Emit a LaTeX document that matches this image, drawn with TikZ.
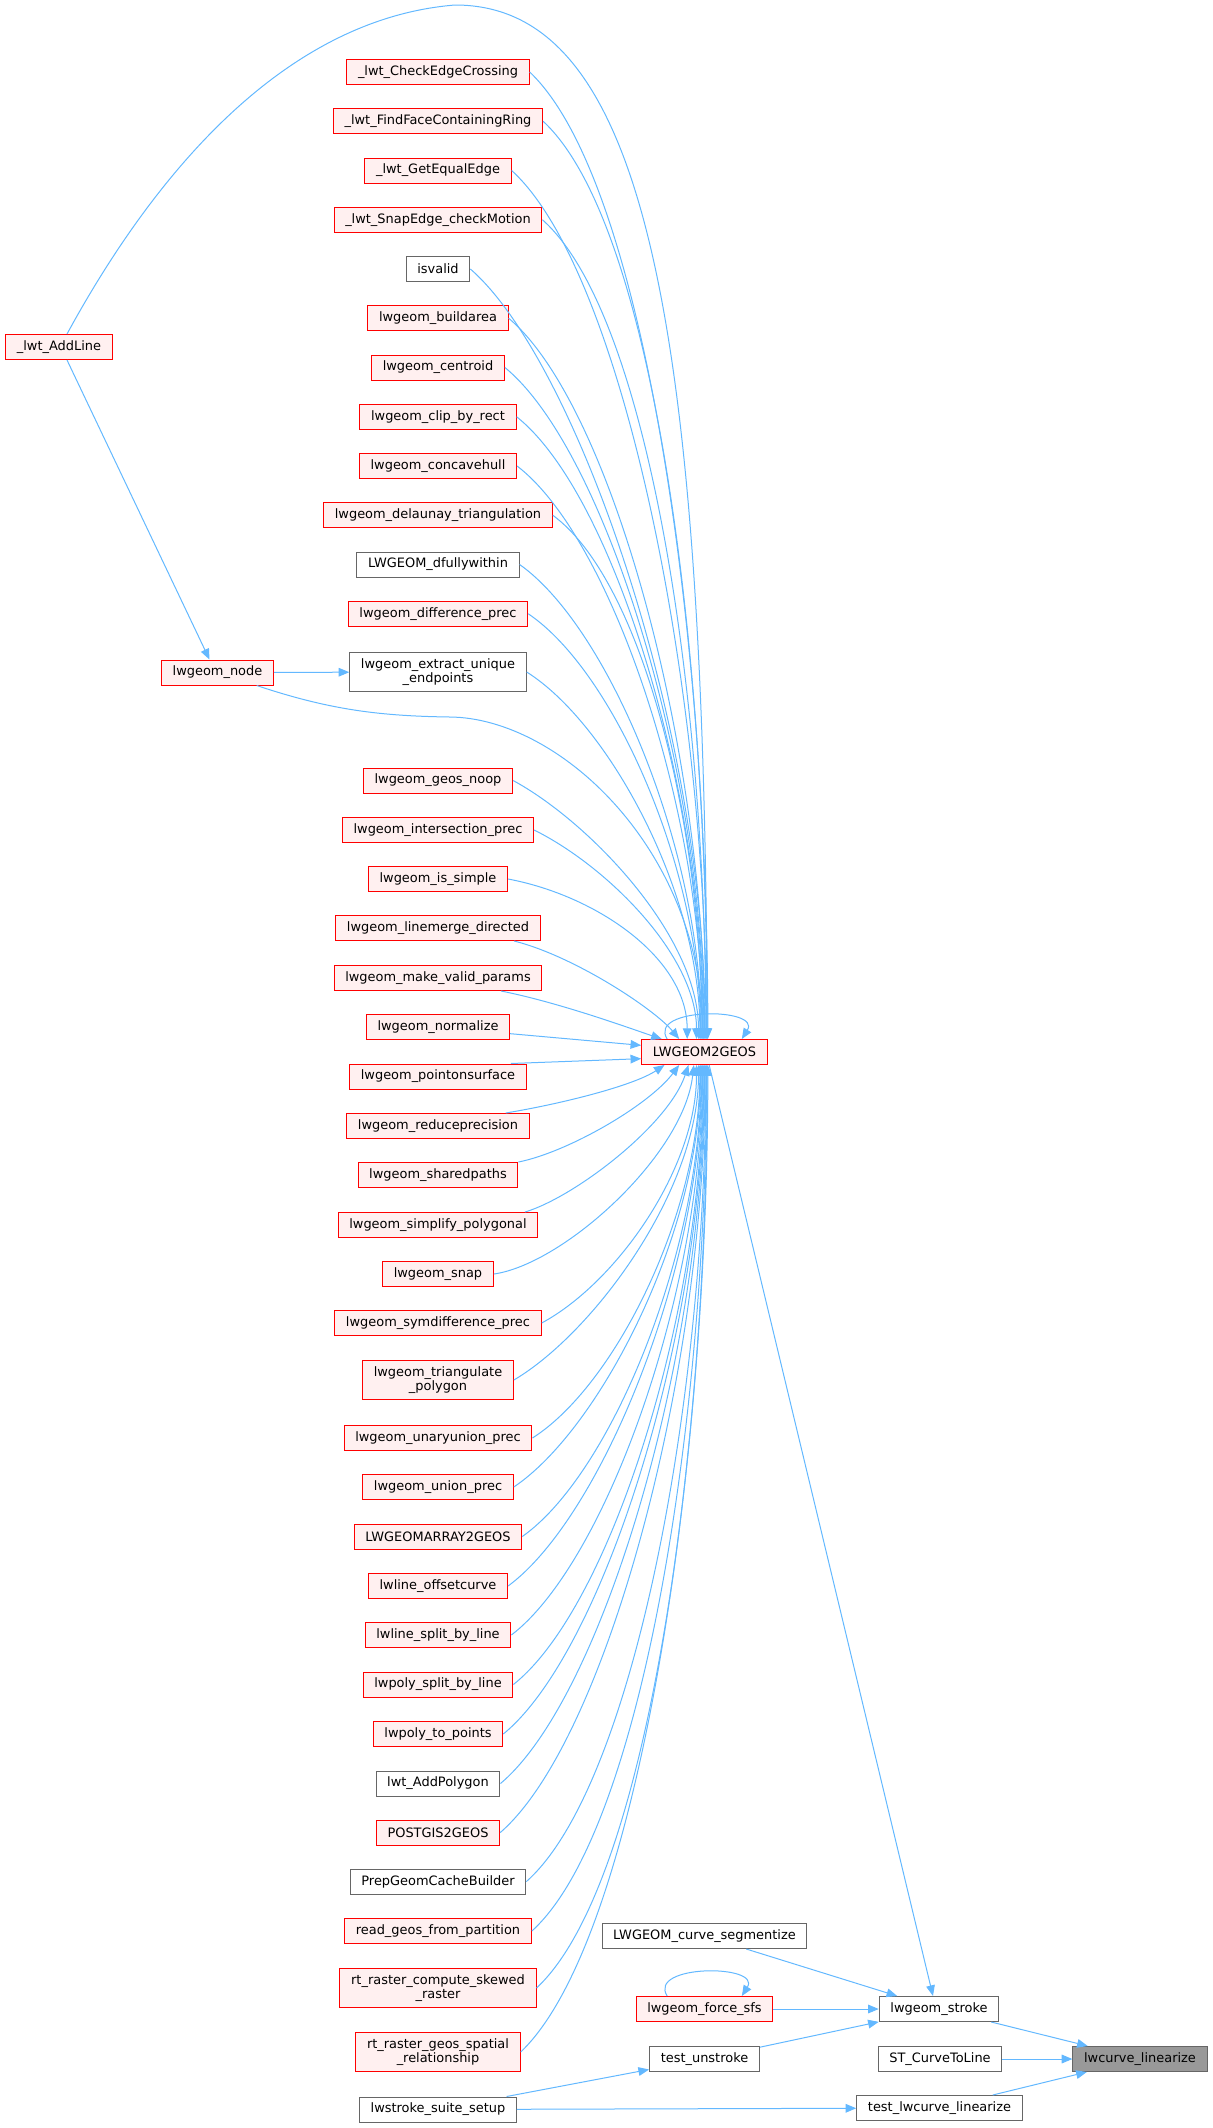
\documentclass[tikz,border=0pt]{standalone}
\usepackage{fontspec}
\setmainfont{DejaVu Sans}
\usetikzlibrary{arrows.meta}
\definecolor{edgeblue}{HTML}{63B8FF}
\definecolor{nodered}{HTML}{FF0000}
\definecolor{redfill}{HTML}{FFF0F0}
\definecolor{graybd}{HTML}{666666}
\definecolor{rootfill}{HTML}{999999}

\begin{document}
\begin{tikzpicture}[x=0.75pt, y=-0.75pt,
	fn/.style={draw, line width=0.75pt, font=\fontsize{9.7}{11}\selectfont,
		inner xsep=8.4pt, inner ysep=4.5pt, minimum height=18.75pt, align=center},
	redfn/.style={fn, draw=nodered, fill=redfill},
	grayfn/.style={fn, draw=graybd, fill=white},
	rootfn/.style={fn, draw=graybd, fill=rootfill},
	callarrow/.style={draw=edgeblue, line width=0.75pt, -{Triangle[length=8pt, width=6.5pt]}}]
		
		\useasboundingbox (0,0) rectangle (1213,2128);
		
		% left column
		\node[redfn] (cec) at (438,72) {\_lwt\_CheckEdgeCrossing};
		\node[redfn] (ffr) at (438,121.25) {\_lwt\_FindFaceContainingRing};
		\node[redfn] (gee) at (438,170.5) {\_lwt\_GetEqualEdge};
		\node[redfn] (sem) at (438,219.75) {\_lwt\_SnapEdge\_checkMotion};
		\node[grayfn] (isv) at (438,269) {isvalid};
		\node[redfn] (bar) at (438,318.25) {lwgeom\_buildarea};
		\node[redfn] (cen) at (438,367.5) {lwgeom\_centroid};
		\node[redfn] (cbr) at (438,416.75) {lwgeom\_clip\_by\_rect};
		\node[redfn] (cvh) at (438,466) {lwgeom\_concavehull};
		\node[redfn] (dlt) at (438,515.25) {lwgeom\_delaunay\_triangulation};
		\node[grayfn] (dfw) at (438,564.5) {LWGEOM\_dfullywithin};
		\node[redfn] (dif) at (438,613.75) {lwgeom\_difference\_prec};
		\node[grayfn] (eue) at (438,672) {lwgeom\_extract\_unique\\\_endpoints};
		\node[redfn] (gno) at (438,780.5) {lwgeom\_geos\_noop};
		\node[redfn] (isp) at (438,830) {lwgeom\_intersection\_prec};
		\node[redfn] (ism) at (438,879) {lwgeom\_is\_simple};
		\node[redfn] (lmd) at (438,928) {lwgeom\_linemerge\_directed};
		\node[redfn] (mvp) at (438,978) {lwgeom\_make\_valid\_params};
		\node[redfn] (nrm) at (438,1027) {lwgeom\_normalize};
		\node[redfn] (pos) at (438,1076.5) {lwgeom\_pointonsurface};
		\node[redfn] (rdp) at (438,1126) {lwgeom\_reduceprecision};
		\node[redfn] (shp) at (438,1175) {lwgeom\_sharedpaths};
		\node[redfn] (spl) at (438,1225) {lwgeom\_simplify\_polygonal};
		\node[redfn] (snp) at (438,1274) {lwgeom\_snap};
		\node[redfn] (sym) at (438,1323) {lwgeom\_symdifference\_prec};
		\node[redfn] (trp) at (438,1380) {lwgeom\_triangulate\\\_polygon};
		\node[redfn] (uup) at (438,1438) {lwgeom\_unaryunion\_prec};
		\node[redfn] (unp) at (438,1487) {lwgeom\_union\_prec};
		\node[redfn] (lma) at (438,1536.5) {LWGEOMARRAY2GEOS};
		\node[redfn] (loc) at (438,1586) {lwline\_offsetcurve};
		\node[redfn] (lsl) at (438,1635) {lwline\_split\_by\_line};
		\node[redfn] (psl) at (438,1684.5) {lwpoly\_split\_by\_line};
		\node[redfn] (ptp) at (438,1734) {lwpoly\_to\_points};
		\node[grayfn] (tap) at (438,1783.5) {lwt\_AddPolygon};
		\node[redfn] (p2g) at (438,1832.6) {POSTGIS2GEOS};
		\node[grayfn] (pgc) at (438,1881.6) {PrepGeomCacheBuilder};
		\node[redfn] (rgp) at (438,1931) {read\_geos\_from\_partition};
		\node[redfn] (rcs) at (438,1988) {rt\_raster\_compute\_skewed\\\_raster};
		\node[redfn] (rgs) at (438,2052) {rt\_raster\_geos\_spatial\\\_relationship};
		\node[grayfn] (sss) at (438,2109.5) {lwstroke\_suite\_setup};
		
		% far left
		\node[redfn] (al) at (59,347) {\_lwt\_AddLine};
		\node[redfn] (nd) at (217.5,672.5) {lwgeom\_node};
		
		% right side
		\node[redfn] (g2g) at (704.5,1052) {LWGEOM2GEOS};
		\node[grayfn] (cse) at (704.5,1936) {LWGEOM\_curve\_segmentize};
		\node[redfn] (fsf) at (704.5,2009) {lwgeom\_force\_sfs};
		\node[grayfn] (tus) at (704.5,2059) {test\_unstroke};
		\node[grayfn] (stk) at (939,2009) {lwgeom\_stroke};
		\node[grayfn] (stc) at (940,2059) {ST\_CurveToLine};
		\node[grayfn] (tll) at (939.5,2108) {test\_lwcurve\_linearize};
		\node[rootfn] (lcl) at (1140,2059) {lwcurve\_linearize};
		
		\coordinate (arctop) at (455,5);
		\coordinate (ndbend) at (450,717);
		
		% callers above LWGEOM2GEOS
		\foreach \n/\y/\s in {cec/72/2.5, ffr/121.25/2, gee/170.5/1.5, sem/219.75/1,
			isv/269/0.5, bar/318.25/0, cen/367.5/-0.5, cbr/416.75/-1, cvh/466/-1.5,
			dlt/515.25/-2, dfw/564.5/-2.5, dif/613.75/-3, eue/672/-3.5, gno/780.5/-4.5,
			isp/830/-6}
		\draw[callarrow] (\n.east) .. controls +({60+0.06*(1039-\y)},{0.1*(1039-\y)+15})
			and +(0,{-0.4*(1039-\y)}) .. ([xshift=\s pt]g2g.north);
		
		\draw[callarrow] (ism.east) .. controls +(90,17) and +(0,-80) .. ([xshift=-13pt]g2g.north);
		\draw[callarrow] ([xshift=-20pt]lmd.south east) .. controls +(60,15) and +(-25,-30) .. ([xshift=-19pt]g2g.north);
		\draw[callarrow] ([xshift=-31pt]mvp.south east) .. controls +(60,12) and +(-30,-10) .. ([xshift=-32pt]g2g.north);
		\draw[callarrow] ([yshift=-5pt]nrm.east) -- ([yshift=5pt]g2g.west);
		\draw[callarrow] ([xshift=-12pt]pos.north east) -- ([yshift=-5pt]g2g.west);
		
		% callers below LWGEOM2GEOS
		\draw[callarrow] ([xshift=-18pt]rdp.north east) .. controls +(60,-10) and +(-30,20) .. ([xshift=-30pt]g2g.south);
		\draw[callarrow] (shp.north east) .. controls +(50,-10) and +(-30,40) .. ([xshift=-19pt]g2g.south);
		\draw[callarrow] ([xshift=-10pt]spl.north east) .. controls +(50,-15) and +(-20,60) .. ([xshift=-12pt]g2g.south);
		\draw[callarrow] (snp.east) .. controls +(70,-10) and +(-10,90) .. ([xshift=-8pt]g2g.south);
		
		\foreach \n/\y/\s in {sym/1323/-6, trp/1380/-4.5, uup/1438/-3.5, unp/1487/-3,
			lma/1536.5/-2.5, loc/1586/-2, lsl/1635/-1.5, psl/1684.5/-1, ptp/1734/-0.5,
			tap/1783.5/0, p2g/1832.6/0.5, pgc/1881.6/1, rgp/1931/1.5, rcs/1988/2,
			rgs/2052/2.5}
		\draw[callarrow] (\n.east) .. controls +({60+0.06*(\y-1065)},{-0.1*(\y-1065)-15})
			and +(0,{0.4*(\y-1065)}) .. ([xshift=\s pt]g2g.south);
		
		% _lwt_AddLine and lwgeom_node
		\draw[callarrow] ([xshift=6pt]al.north) .. controls (140,200) and (270,20) .. (arctop)
			.. controls (640,5) and (705,300) .. ([xshift=2pt]g2g.north);
		\draw[callarrow] ([xshift=6pt]al.south) -- ([xshift=-6pt]nd.north);
		\draw[callarrow] (nd) -- (eue);
		\draw[callarrow] ([xshift=-13pt]nd.south east) .. controls (330,710) and (380,716) .. (ndbend)
			.. controls (560,718) and (700,850) .. ([xshift=-1pt]g2g.north);
		
		% self calls
		\draw[callarrow] ([xshift=-28pt]g2g.north) .. controls +(-20,-32) and +(20,-32) .. ([xshift=28pt]g2g.north);
		\draw[callarrow] ([xshift=-28pt]fsf.north) .. controls +(-20,-32) and +(20,-32) .. ([xshift=28pt]fsf.north);
		
		% towards lwcurve_linearize
		\draw[callarrow] ([xshift=3.5pt]g2g.south) -- ([xshift=-4.5pt]stk.north);
		\draw[callarrow] (cse) -- (stk);
		\draw[callarrow] (fsf) -- (stk);
		\draw[callarrow] (tus) -- (stk);
		\draw[callarrow] (sss) -- (tus);
		\draw[callarrow] (sss) -- (tll);
		\draw[callarrow] (stk) -- (lcl);
		\draw[callarrow] (stc) -- (lcl);
		\draw[callarrow] (tll) -- (lcl);
		
	\end{tikzpicture}
\end{document}
